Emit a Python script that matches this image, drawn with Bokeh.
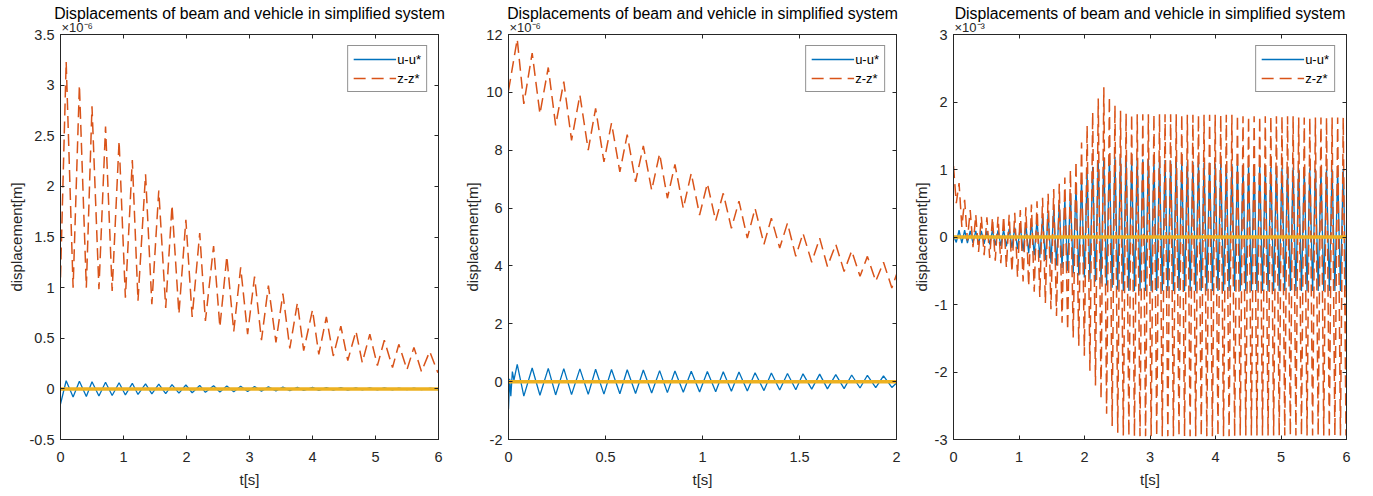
from bokeh.plotting import figure
from bokeh.layouts import row
from bokeh.models import LinearAxis, FixedTicker, Legend, Range1d, Title
from bokeh.embed import file_html
from bokeh.resources import INLINE

FONT = "Liberation Sans"
BLUE = "#0072BD"
ORANGE = "#D95319"
YELLOW = "#EDB120"
AX = "#262626"
TITLE = "Displacements of beam and vehicle in simplified system"

# ---------------- panel 1 (x1e-6) ----------------
p1_t = [0.00, 0.09, 0.20, 0.30, 0.41, 0.50, 0.61, 0.715, 0.82, 0.93, 1.03, 1.14, 1.23, 1.35, 1.45,
        1.56, 1.67, 1.77, 1.88, 1.99, 2.09, 2.21, 2.30, 2.43, 2.53, 2.64, 2.75, 2.86, 2.97, 3.08,
        3.19, 3.30, 3.42, 3.53, 3.64, 3.76, 3.86, 4.00, 4.10, 4.22, 4.33, 4.45, 4.56, 4.69, 4.79,
        4.91, 5.03, 5.14, 5.27, 5.37, 5.50, 5.61, 5.73, 5.86, 5.99]
p1_z = [1.10, 3.23, 1.00, 3.00, 1.00, 2.79, 0.985, 2.59, 0.968, 2.45, 0.90, 2.26, 0.87, 2.12, 0.837,
        1.96, 0.80, 1.815, 0.74, 1.67, 0.71, 1.54, 0.67, 1.41, 0.61, 1.31, 0.567, 1.20, 0.54, 1.11,
        0.48, 1.02, 0.46, 0.94, 0.40, 0.85, 0.377, 0.78, 0.34, 0.71, 0.325, 0.62, 0.28, 0.57, 0.26,
        0.54, 0.23, 0.48, 0.21, 0.44, 0.19, 0.41, 0.17, 0.37, 0.16]
p1_u = [-0.15, 0.08, -0.08, 0.075, -0.075, 0.07, -0.07, 0.065, -0.065, 0.06, -0.06, 0.055, -0.055,
        0.05, -0.05, 0.046, -0.046, 0.042, -0.042, 0.038, -0.038, 0.034, -0.034, 0.031, -0.031,
        0.028, -0.028, 0.025, -0.025, 0.022, -0.022, 0.02, -0.02, 0.018, -0.018, 0.016, -0.016,
        0.014, -0.014, 0.013, -0.013, 0.012, -0.012, 0.011, -0.011, 0.01, -0.01, 0.009, -0.009,
        0.008, -0.008, 0.007, -0.007, 0.006, -0.006]
p1_ref_t = [0.0, 6.0]
p1_ref_v = [0.0, 0.0]
p1_xticks = [0, 1, 2, 3, 4, 5, 6]
p1_xlabels = ["0", "1", "2", "3", "4", "5", "6"]
p1_yticks = [-0.5, 0, 0.5, 1, 1.5, 2, 2.5, 3, 3.5]
p1_ylabels = ["-0.5", "0", "0.5", "1", "1.5", "2", "2.5", "3", "3.5"]

# ---------------- panel 2 (x1e-6) ----------------
p2_tz = [0.000, 0.045, 0.079, 0.122, 0.162, 0.205, 0.243, 0.285, 0.325, 0.368, 0.411, 0.449, 0.492,
         0.531, 0.574, 0.612, 0.655, 0.695, 0.738, 0.779, 0.819, 0.858, 0.901, 0.942, 0.985, 1.025,
         1.068, 1.107, 1.149, 1.188, 1.231, 1.271, 1.317, 1.355, 1.398, 1.438, 1.481, 1.518, 1.563,
         1.604, 1.644, 1.687, 1.730, 1.769, 1.812, 1.850, 1.893, 1.933, 1.976, 2.000]
p2_z = [10.06, 11.84, 9.60, 11.36, 9.26, 10.86, 8.86, 10.37, 8.34, 9.91, 8.00, 9.45, 7.60, 8.94, 7.25,
        8.54, 6.91, 8.15, 6.62, 7.88, 6.34, 7.51, 5.99, 7.20, 5.76, 6.85, 5.56, 6.51, 5.30, 6.24, 4.96,
        5.99, 4.75, 5.65, 4.62, 5.48, 4.33, 5.13, 4.13, 4.96, 3.98, 4.75, 3.81, 4.52, 3.64, 4.33, 3.47,
        4.13, 3.24, 3.70]
p2_tu = [0.000, 0.006, 0.012, 0.020, 0.028, 0.045, 0.079, 0.122, 0.162, 0.205, 0.243, 0.285, 0.325,
         0.368, 0.411, 0.449, 0.492, 0.531, 0.574, 0.612, 0.655, 0.695, 0.738, 0.779, 0.819, 0.858,
         0.901, 0.942, 0.985, 1.025, 1.068, 1.107, 1.149, 1.188, 1.231, 1.271, 1.317, 1.355, 1.398,
         1.438, 1.481, 1.518, 1.563, 1.604, 1.644, 1.687, 1.730, 1.769, 1.812, 1.850, 1.893, 1.933,
         1.976, 2.000]
p2_u = [-0.95, 0.10, -0.50, 0.35, 0.05, 0.60, -0.50, 0.47, -0.47, 0.46, -0.46, 0.45, -0.45, 0.44,
        -0.44, 0.43, -0.43, 0.42, -0.42, 0.41, -0.41, 0.40, -0.39, 0.38, -0.38, 0.37, -0.37, 0.36,
        -0.36, 0.35, -0.35, 0.34, -0.33, 0.33, -0.32, 0.31, -0.31, 0.30, -0.29, 0.28, -0.28, 0.27,
        -0.26, 0.26, -0.25, 0.24, -0.24, 0.23, -0.22, 0.22, -0.21, 0.20, -0.20, -0.05]
p2_ref_t = [0.0, 2.0]
p2_ref_v = [0.0, 0.0]
p2_xticks = [0, 0.5, 1, 1.5, 2]
p2_xlabels = ["0", "0.5", "1", "1.5", "2"]
p2_yticks = [-2, 0, 2, 4, 6, 8, 10, 12]
p2_ylabels = ["-2", "0", "2", "4", "6", "8", "10", "12"]

# ---------------- panel 3 (x1e-3) ----------------
p3_half_period = 0.0425
p3_t = [round(p3_half_period * k, 4) for k in range(142)] + [6.0]
p3_z = [1.05, 0.50, 0.80, 0.15, 0.55, -0.05, 0.40, -0.15, 0.33, -0.22,
        0.30, -0.27, 0.29, -0.31, 0.29, -0.35, 0.30, -0.39, 0.31, -0.45,
        0.33, -0.52, 0.36, -0.59, 0.40, -0.66, 0.44, -0.73, 0.48, -0.81,
        0.53, -0.89, 0.58, -0.98, 0.64, -1.07, 0.71, -1.17, 0.79, -1.27,
        0.88, -1.38, 0.99, -1.49, 1.12, -1.61, 1.40, -1.76, 1.65, -1.98,
        1.85, -2.20, 2.05, -2.40, 2.22, -2.62, 2.08, -2.80, 1.95, -2.90,
        1.87, -2.94, 1.83,
        -2.95, 1.82, -2.95, 1.82, -2.95, 1.82, -2.95, 1.82, -2.95, 1.82,
        -2.95, 1.82, -2.95, 1.82, -2.95, 1.82, -2.95, 1.82, -2.95, 1.82,
        -2.95, 1.81, -2.95, 1.81, -2.95, 1.81, -2.95, 1.81, -2.95, 1.81,
        -2.95, 1.81, -2.95, 1.81, -2.95, 1.81, -2.95, 1.81, -2.95, 1.81,
        -2.94, 1.79, -2.94, 1.79, -2.94, 1.79, -2.94, 1.79, -2.94, 1.79,
        -2.94, 1.79, -2.94, 1.79, -2.94, 1.79, -2.94, 1.79, -2.94, 1.79,
        -2.94, 1.77, -2.94, 1.77, -2.94, 1.77, -2.94, 1.77, -2.94, 1.77,
        -2.94, 1.77, -2.94, 1.77, -2.94, 1.77, -2.94, 1.77,
        -2.94, -0.60]
p3_u = [0.02, -0.08, 0.10, -0.09, 0.10, -0.09, 0.09, -0.09, 0.09, -0.10,
        0.09, -0.10, 0.09, -0.11, 0.10, -0.12, 0.10, -0.13, 0.11, -0.14,
        0.12, -0.16, 0.14, -0.18, 0.16, -0.21, 0.19, -0.24, 0.22, -0.27,
        0.26, -0.31, 0.30, -0.34, 0.35, -0.38, 0.41, -0.42, 0.48, -0.46,
        0.56, -0.50, 0.65, -0.54, 0.75, -0.57, 0.85, -0.60, 0.95, -0.63,
        1.04, -0.66, 1.12, -0.69, 1.18, -0.72, 1.20, -0.75, 1.19, -0.78,
        1.18, -0.80, 1.17,
        -0.80, 1.16, -0.80, 1.16, -0.80, 1.15, -0.80, 1.15, -0.80, 1.15,
        -0.80, 1.14, -0.80, 1.14, -0.80, 1.13, -0.80, 1.13, -0.80, 1.12,
        -0.80, 1.12, -0.80, 1.11, -0.80, 1.11, -0.80, 1.10, -0.80, 1.10,
        -0.80, 1.09, -0.80, 1.09, -0.80, 1.08, -0.80, 1.08, -0.80, 1.07,
        -0.80, 1.07, -0.80, 1.06, -0.80, 1.06, -0.80, 1.05, -0.80, 1.05,
        -0.80, 1.04, -0.80, 1.04, -0.80, 1.03, -0.80, 1.03, -0.80, 1.03,
        -0.80, 1.02, -0.80, 1.02, -0.80, 1.02, -0.80, 1.01, -0.80, 1.01,
        -0.80, 1.01, -0.80, 1.00, -0.80, 1.00, -0.80, 1.00,
        -0.80, -0.35]
p3_ref_t = [0.0, 6.0]
p3_ref_v = [0.0, 0.0]
p3_xticks = [0, 1, 2, 3, 4, 5, 6]
p3_xlabels = ["0", "1", "2", "3", "4", "5", "6"]
p3_yticks = [-3, -2, -1, 0, 1, 2, 3]
p3_ylabels = ["-3", "-2", "-1", "0", "1", "2", "3"]

legend_labels = ["u-u*", "z-z*"]
exponents = ["\u00d710\u207b\u2076", "\u00d710\u207b\u2076", "\u00d710\u207b\u00b3"]


def style_axis(ax, ticks, labels, show):
    ax.ticker = FixedTicker(ticks=ticks)
    ax.major_label_overrides = {t: l for t, l in zip(ticks, labels)}
    ax.minor_tick_line_color = None
    ax.major_tick_in = 4
    ax.major_tick_out = 0
    ax.axis_line_color = AX
    ax.major_tick_line_color = AX
    ax.major_label_text_font = FONT
    if show:
        ax.major_label_text_color = AX
        ax.major_label_text_font_size = "14.5px"
    else:
        ax.major_label_text_color = None
        ax.major_label_text_font_size = "0px"
        ax.major_label_standoff = 0


def panel(width, height, bl, br, bt, bb, xr, yr, xt, xl, yt, yl, tu, u, tz, z, rt, rv, exp):
    p = figure(width=width, height=height, x_range=Range1d(*xr), y_range=Range1d(*yr),
               output_backend="svg", toolbar_location=None, title=TITLE,
               min_border_left=bl, min_border_right=br, min_border_top=bt, min_border_bottom=bb)
    p.grid.visible = False
    p.outline_line_color = AX
    p.background_fill_color = "white"
    p.border_fill_color = "white"
    p.title.text_font = FONT
    p.title.text_font_size = "15.8px"
    p.title.text_font_style = "normal"
    p.title.text_color = "black"
    p.title.align = "center"
    p.title.standoff = -9

    xa = p.xaxis[0]
    ya = p.yaxis[0]
    style_axis(xa, xt, xl, True)
    style_axis(ya, yt, yl, True)
    xa.major_label_standoff = 12
    ya.major_label_standoff = 6
    xa.axis_label = "t[s]"
    ya.axis_label = "displacement[m]"
    for a in (xa, ya):
        a.axis_label_text_font = FONT
        a.axis_label_text_font_size = "15px"
        a.axis_label_text_font_style = "normal"
        a.axis_label_text_color = AX
    xa.axis_label_standoff = 6
    ya.axis_label_standoff = 2

    top = LinearAxis()
    style_axis(top, xt, xl, False)
    p.add_layout(top, "above")
    right = LinearAxis()
    style_axis(right, yt, yl, False)
    p.add_layout(right, "right")

    p.add_layout(Title(text=exp, align="left", text_font=FONT, text_font_size="13px",
                       text_font_style="normal", text_color=AX, standoff=0, offset=1), "above")

    r_u = p.line(tu, u, color=BLUE, line_width=1.3)
    r_z = p.line(tz, z, color=ORANGE, line_width=1.5, line_dash="12 6")
    p.line(rt, rv, color=YELLOW, line_width=3.5)

    leg = Legend(items=[(legend_labels[0], [r_u]), (legend_labels[1], [r_z])], location="top_right")
    leg.label_text_font = FONT
    leg.label_text_font_size = "13px"
    leg.label_text_color = "black"
    leg.glyph_width = 43
    leg.glyph_height = 16
    leg.label_standoff = 1
    leg.padding = 5
    leg.spacing = 3
    leg.margin = 11
    leg.border_line_color = AX
    leg.border_line_width = 1
    leg.background_fill_alpha = 1.0
    p.add_layout(leg)
    return p


f1 = panel(458, 493, 60, 20, 34, 54, (0, 6), (-0.5, 3.5), p1_xticks, p1_xlabels, p1_yticks, p1_ylabels,
           p1_t, p1_u, p1_t, p1_z, p1_ref_t, p1_ref_v, exponents[0])
f2 = panel(448, 493, 50, 10, 34, 54, (0, 2), (-2, 12), p2_xticks, p2_xlabels, p2_yticks, p2_ylabels,
           p2_tu, p2_u, p2_tz, p2_z, p2_ref_t, p2_ref_v, exponents[1])
f3 = panel(460, 493, 47, 20, 34, 54, (0, 6), (-3, 3), p3_xticks, p3_xlabels, p3_yticks, p3_ylabels,
           p3_t, p3_u, p3_t, p3_z, p3_ref_t, p3_ref_v, exponents[2])

layout = row(f1, f2, f3)
open("out.html", "w").write(file_html(layout, INLINE))
